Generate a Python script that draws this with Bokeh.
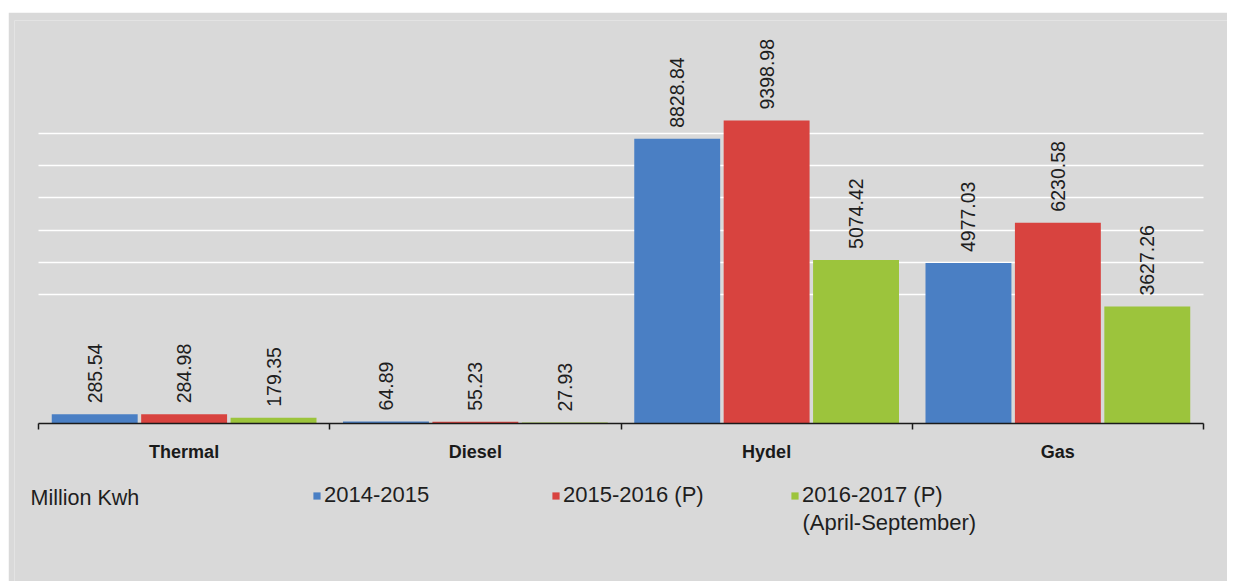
import math
from bokeh.plotting import figure
from bokeh.models import (ColumnDataSource, FactorRange, Range1d, LabelSet, Label,
                          Legend, LegendItem, Grid, FixedTicker, LinearAxis, CategoricalAxis)
from bokeh.transform import dodge
from bokeh.core.properties import value
from bokeh.embed import file_html
from bokeh.resources import INLINE

categories = ["Thermal", "Diesel", "Hydel", "Gas"]
series_names = ["2014-2015", "2015-2016 (P)", "2016-2017 (P)"]
series_note = "(April-September)"
v2014 = [285.54, 64.89, 8828.84, 4977.03]
v2015 = [284.98, 55.23, 9398.98, 6230.58]
v2016 = [179.35, 27.93, 5074.42, 3627.26]
grid_values = [4000, 5000, 6000, 7000, 8000, 9000]
unit_label = "Million Kwh"

colors = ["#4a7fc4", "#d8433f", "#9cc43c"]
BG = "#d9d9d9"
FONT = "Liberation Sans"
TXT = "#1e1e1e"

src = ColumnDataSource(data=dict(
    cat=categories, v2014=v2014, v2015=v2015, v2016=v2016,
    t2014=[f"{v:.2f}" for v in v2014],
    t2015=[f"{v:.2f}" for v in v2015],
    t2016=[f"{v:.2f}" for v in v2016],
))

p = figure(width=1219, height=569,
           x_range=FactorRange(*categories, range_padding=0.0412, factor_padding=0),
           y_range=Range1d(-4900, 12500), output_backend="svg", toolbar_location=None,
           x_axis_location=None, y_axis_location=None,
           min_border_left=6, min_border_right=0, min_border_top=8, min_border_bottom=0)
p.margin = (12, 0, 0, 8)
p.background_fill_color = BG
p.border_fill_color = BG
p.outline_line_color = None
p.grid.grid_line_color = None

n = len(categories)
grid = Grid(dimension=1, ticker=FixedTicker(ticks=grid_values), cross_bounds=(0, n),
            grid_line_color="white", grid_line_width=1.5)
p.add_layout(grid)

offsets = [-0.307, 0.0, 0.307]
keys = ["v2014", "v2015", "v2016"]
tkeys = ["t2014", "t2015", "t2016"]
renderers = []
for off, k, tk, c in zip(offsets, keys, tkeys, colors):
    r = p.vbar(x=dodge("cat", off, range=p.x_range), top=k, width=0.295, bottom=0,
               source=src, fill_color=c, line_color=None)
    renderers.append(r)
    ls = LabelSet(x=dodge("cat", off, range=p.x_range), y=k, text=tk, source=src,
                  angle=math.pi / 2, text_align="left", text_baseline="middle",
                  y_offset=11, text_font=value(FONT), text_font_size="19.5px",
                  text_color=TXT)
    p.add_layout(ls)

# tick marks at category boundaries (synthetic coordinates of the factor range)
bounds = list(range(n + 1))
tick_axis = LinearAxis(ticker=FixedTicker(ticks=bounds), fixed_location=0, bounds=(0, n),
                       axis_line_color="#1a1a1a", axis_line_width=1.5,
                       major_tick_line_color="#1a1a1a", major_tick_line_width=1.5,
                       major_tick_in=0, major_tick_out=6,
                       minor_tick_line_color=None,
                       major_label_overrides={b: "" for b in bounds},
                       major_label_standoff=0)
p.add_layout(tick_axis, "below")

cat_axis = CategoricalAxis(fixed_location=0, axis_line_color=None, major_tick_line_color=None,
                           minor_tick_line_color=None,
                           major_label_text_font=FONT, major_label_text_font_size="18px",
                           major_label_text_font_style="bold",
                           major_label_text_color="#1a1a1a", major_label_standoff=12)
p.add_layout(cat_axis, "below")

legend = Legend(items=[LegendItem(label=s, renderers=[r]) for s, r in zip(series_names, renderers)],
                location=(298, 73), orientation="horizontal",
                glyph_width=9, glyph_height=9, label_standoff=3, spacing=0,
                label_width=227, padding=0, margin=0,
                background_fill_alpha=0, border_line_color=None,
                label_text_font=FONT, label_text_font_size="22px", label_text_color=TXT)
p.add_layout(legend, "center")

p.add_layout(Label(x=16, y=84, x_units="screen", y_units="screen", text=unit_label,
                   text_font=FONT, text_font_size="21.5px", text_color=TXT,
                   text_baseline="middle", text_align="left"))
p.add_layout(Label(x=788, y=59, x_units="screen", y_units="screen", text=series_note,
                   text_font=FONT, text_font_size="22px", text_color=TXT,
                   text_baseline="middle", text_align="left"))

open("out.html", "w").write(file_html(p, INLINE))
